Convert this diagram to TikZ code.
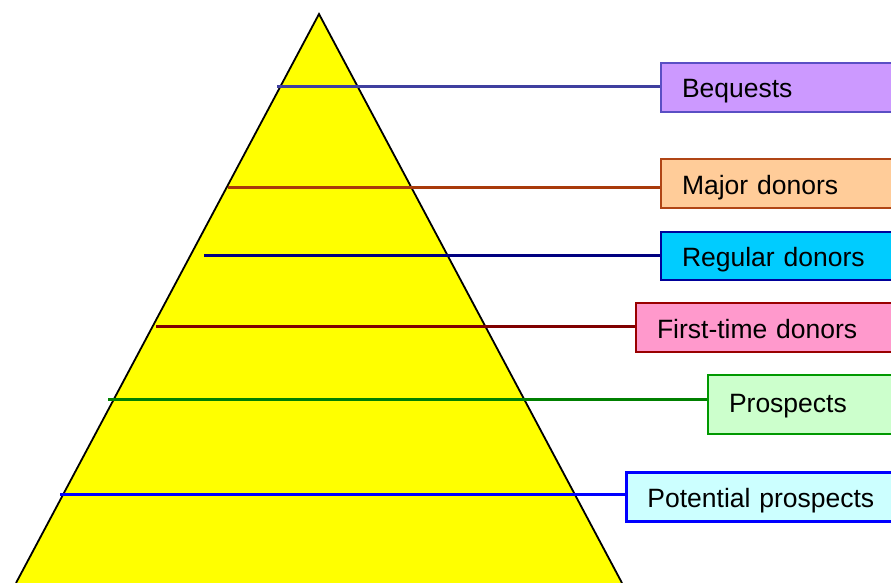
\documentclass[tikz,border=0pt]{standalone}
\usepackage{fontspec}
\setmainfont{Liberation Sans}
\begin{document}
\begin{tikzpicture}[x=1pt,y=-1pt,
  lvlbox/.style={rectangle, anchor=north west, line width=2pt, text width=300pt, align=left,
    inner xsep=21pt, inner ysep=0pt, text height=21pt, text depth=0pt,
    font=\fontsize{26.5}{30}\selectfont},
  lvlline/.style={line width=3pt}]
\clip (0,0) rectangle (891,583);
\fill[white] (0,0) rectangle (891,583);
\definecolor{pyrfill}{HTML}{FFFF00}
% pyramid
\coordinate (apex) at (319,14);
\coordinate (bl) at (16,583);
\coordinate (br) at (622,583);
\filldraw[fill=pyrfill, draw=black, line width=1.8pt, line join=miter] (bl) -- (apex) -- (br);
% boxes
\definecolor{bqfill}{HTML}{CC99FF}\definecolor{bqline}{HTML}{3F3F9F}\definecolor{bqdraw}{HTML}{5A4FC4}
\definecolor{mjfill}{HTML}{FFCC99}\definecolor{mjline}{HTML}{A83A0A}\definecolor{mjdraw}{HTML}{B04515}
\definecolor{rgfill}{HTML}{00CCFF}\definecolor{rgline}{HTML}{000080}\definecolor{rgdraw}{HTML}{000099}
\definecolor{ftfill}{HTML}{FF99CC}\definecolor{ftline}{HTML}{800000}\definecolor{ftdraw}{HTML}{990000}
\definecolor{prfill}{HTML}{CCFFCC}\definecolor{prline}{HTML}{008000}\definecolor{prdraw}{HTML}{009900}
\definecolor{ppfill}{HTML}{CCFFFF}\definecolor{ppline}{HTML}{0000FF}\definecolor{ppdraw}{HTML}{0000FF}
\node[lvlbox, fill=bqfill, draw=bqdraw, minimum height=49pt] (b1) at (660,62) {Bequests};
\node[lvlbox, fill=mjfill, draw=mjdraw, minimum height=49pt] (b2) at (660,158) {Major donors};
\node[lvlbox, fill=rgfill, draw=rgdraw, minimum height=48pt] (b3) at (660,231) {Regular donors};
\node[lvlbox, fill=ftfill, draw=ftdraw, minimum height=49pt] (b4) at (635,302) {First-time donors};
\node[lvlbox, fill=prfill, draw=prdraw, minimum height=59pt, text depth=6pt] (b5) at (707,374) {Prospects};
\node[lvlbox, fill=ppfill, draw=ppdraw, line width=2.8pt, minimum height=49pt] (b6) at (625,471) {Potential prospects};
% line starts
\coordinate (c1) at (277,87);
\coordinate (c2) at (228,187);
\coordinate (c3) at (204,255);
\coordinate (c4) at (156,326);
\coordinate (c5) at (108,399);
\coordinate (c6) at (60,494);
\draw[lvlline, draw=bqline] (c1) -- (c1 -| b1.west);
\draw[lvlline, draw=mjline] (c2) -- (c2 -| b2.west);
\draw[lvlline, draw=rgline] (c3) -- (c3 -| b3.west);
\draw[lvlline, draw=ftline] (c4) -- (c4 -| b4.west);
\draw[lvlline, draw=prline] (c5) -- (c5 -| b5.west);
\draw[lvlline, draw=ppline] (c6) -- (c6 -| b6.west);
\end{tikzpicture}
\end{document}
